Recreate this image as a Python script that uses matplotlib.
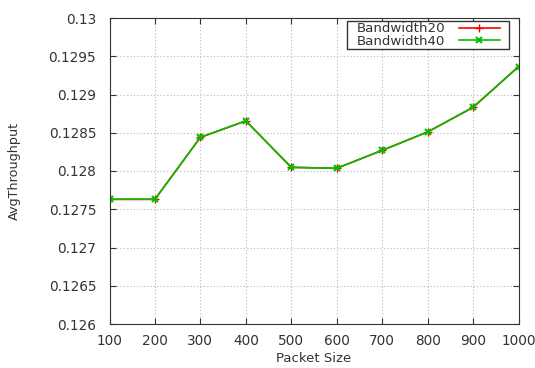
import matplotlib
matplotlib.use("Agg")
import matplotlib.pyplot as plt
from matplotlib.patches import Rectangle

packet_size = [100, 200, 300, 400, 500, 600, 700, 800, 900, 1000]
bw20 = [0.12763, 0.12763, 0.12844, 0.128655, 0.128048, 0.128035, 0.12827, 0.12851, 0.128832, 0.129364]
bw40 = [0.12763, 0.12763, 0.12844, 0.128655, 0.128048, 0.128035, 0.12827, 0.12851, 0.128832, 0.129364]
yticks = [0.126, 0.1265, 0.127, 0.1275, 0.128, 0.1285, 0.129, 0.1295, 0.13]
ytick_labels = ["0.126", "0.1265", "0.127", "0.1275", "0.128", "0.1285", "0.129", "0.1295", "0.13"]

plt.rcParams['font.family'] = ['DejaVu Sans']
fig = plt.figure(figsize=(5.35, 3.68), dpi=100)
W, H = 535, 368
l, r, t, b = 109.5, 518.5, 18, 324
ax = fig.add_axes([l / W, 1 - b / H, (r - l) / W, (b - t) / H])

ax.plot(packet_size, bw20, color='#ff0000', marker='+', markersize=6, lw=1.2, label='Bandwidth20')
ax.plot(packet_size, bw40, color='#00c000', marker='x', markersize=5, mew=1.5, lw=1.2, label='Bandwidth40')

ax.set_xlim(100, 1000)
ax.set_ylim(0.126, 0.13)
ax.set_xticks(packet_size)
ax.set_yticks(yticks)
ax.set_yticklabels(ytick_labels)
ax.grid(True, color='#b8b8b8', linestyle=(0, (1, 2)), lw=0.8)
ax.tick_params(direction='in', top=True, right=True, length=4, labelsize=9.8, colors='#333333', labelcolor='#333333')
ax.tick_params(axis='x', pad=7)
ax.tick_params(axis='y', pad=9.5)
for s in ax.spines.values():
    s.set_color('#333333')
ax.set_xlabel('Packet Size', fontsize=9.5, color='#333333', labelpad=3)
ax.set_ylabel('AvgThroughput', fontsize=9.2, color='#333333', labelpad=20)

# legend frame (gnuplot-style box, wider left padding)
ax.add_patch(Rectangle((0.5807, 0.8987), 0.9768 - 0.5807, 0.9902 - 0.8987, transform=ax.transAxes,
                       facecolor='white', edgecolor='#333333', lw=1.0, zorder=4))
leg = ax.legend(loc='center right', markerfirst=False, fontsize=9.6, frameon=False,
                borderpad=0.0, labelspacing=-0.05, handlelength=3.1,
                handletextpad=1.0, borderaxespad=0.0, bbox_to_anchor=(0.955, 0.9445))
leg.set_zorder(5)
for txt in leg.get_texts():
    txt.set_color('#333333')

fig.savefig('out.png', dpi=100)
